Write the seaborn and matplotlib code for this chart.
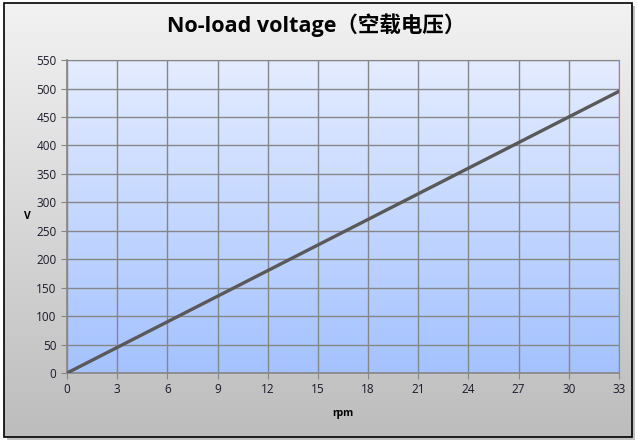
import numpy as np
import pandas as pd
import matplotlib
matplotlib.use('Agg')
import matplotlib.pyplot as plt
from matplotlib.patches import Rectangle
import seaborn as sns

rpm = [0, 3, 6, 9, 12, 15, 18, 21, 24, 27, 30, 33]
volts = [0, 45, 90, 135, 180, 225, 270, 315, 360, 405, 450, 495]
x_ticks = [0, 3, 6, 9, 12, 15, 18, 21, 24, 27, 30, 33]
y_ticks = [0, 50, 100, 150, 200, 250, 300, 350, 400, 450, 500, 550]

df = pd.DataFrame({'rpm': rpm, 'V': volts})

sns.set_style('white')
plt.rcParams['font.family'] = ['Open Sans', 'Noto Sans CJK SC', 'DejaVu Sans']

fig = plt.figure(figsize=(6.38, 4.42), dpi=100)

# chart area background (grey gradient, black frame, shadow)
bg = fig.add_axes([0, 0, 1, 1], zorder=-5)
bg.set_xlim(0, 638)
bg.set_ylim(442, 0)
bg.axis('off')
bg.add_patch(Rectangle((7, 6), 628, 434, facecolor='#9a9a9a', edgecolor='none', alpha=0.6))
grad = np.linspace(0, 1, 256).reshape(-1, 1)
top_c = np.array([0.95, 0.95, 0.95])
bot_c = np.array([0.74, 0.74, 0.74])
img = (top_c + (bot_c - top_c) * grad[..., None]).reshape(256, 1, 3)
bg.imshow(img, extent=(4, 632, 437, 3), aspect='auto', zorder=1)
bg.add_patch(Rectangle((4, 3), 628, 434, facecolor='none', edgecolor='black', lw=1.2, zorder=2))

# plot area
ax = fig.add_axes([0.105, 0.156, 0.865, 0.708])
pgrad = np.linspace(0, 1, 256).reshape(-1, 1)
p_top = np.array([0xe4, 0xec, 0xff]) / 255
p_bot = np.array([0xa4, 0xc2, 0xff]) / 255
pimg = (p_top + (p_bot - p_top) * pgrad[..., None]).reshape(256, 1, 3)
ax.imshow(pimg, extent=(0, 33, 0, 550), aspect='auto', zorder=0)

sns.lineplot(data=df, x='rpm', y='V', ax=ax, color='#595959', lw=2.4, zorder=3)

ax.set_xlim(0, 33)
ax.set_ylim(0, 550)
ax.set_xticks(x_ticks)
ax.set_yticks(y_ticks)
ax.grid(True, color='#868686', lw=1.0, zorder=1)
ax.set_axisbelow(False)
for ln in ax.get_xgridlines() + ax.get_ygridlines():
    ln.set_zorder(1)
for s in ['top', 'right']:
    ax.spines[s].set_color('#6f8fc8')
    ax.spines[s].set_linewidth(0.8)
for s in ['left', 'bottom']:
    ax.spines[s].set_color('#868686')
    ax.spines[s].set_linewidth(1.2)
ax.tick_params(axis='both', labelsize=8.5, colors='#868686', labelcolor='#1a1a2a',
               length=4, direction='out', left=True, bottom=True)
ax.set_xlabel('rpm', fontsize=7.5, fontweight='bold', labelpad=8, color='black')
ax.set_ylabel('V', fontsize=7.5, fontweight='bold', rotation=0, labelpad=6, va='center',
              color='black')

fig.text(0.496, 0.942, 'No-load voltage（空载电压）', ha='center', va='center',
         fontsize=15.5, fontweight='bold', color='black')

fig.savefig('out.png', dpi=100)
